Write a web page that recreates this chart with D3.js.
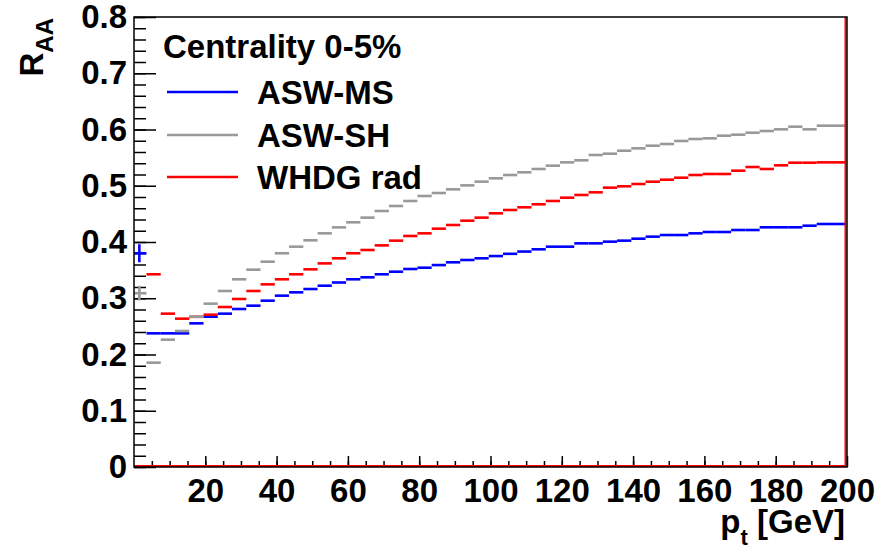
<!doctype html>
<html lang="en">
<head>
  <meta charset="utf-8">
  <title>RAA vs pt</title>
  <style>
    body { margin: 0; background: #fff; }
    svg { display: block; }
    text {
      font-family: "Liberation Sans", Arial, Helvetica, sans-serif;
      font-weight: bold;
      fill: #000;
    }
    .axis text { font-size: 33px; }
    .axis line { stroke: #000; stroke-width: 1.5; }
    .axis path { display: none; }
    .seg { stroke-width: 2.6; fill: none; }
  </style>
</head>
<body>
<svg width="895" height="552"></svg>
<script src="https://d3js.org/d3.v7.min.js"></script>
<script>
  // histogram binning: 50 bins of 4 GeV starting at -0.5
  var binStart = -0.5, binWidth = 4;

  var asw_ms = [0.380, 0.2376, 0.2376, 0.2376, 0.2554, 0.2672, 0.2726, 0.2809, 0.2868, 0.2957,
    0.3046, 0.3105, 0.3164, 0.3223, 0.3280, 0.3337, 0.3372, 0.3426, 0.3472, 0.3520,
    0.3543, 0.3590, 0.3639, 0.3680, 0.3710, 0.3750, 0.3790, 0.3830, 0.3870, 0.3917,
    0.3917, 0.3976, 0.3976, 0.4006, 0.4024, 0.4059, 0.4095, 0.4124, 0.4124, 0.4154,
    0.4178, 0.4178, 0.4213, 0.4213, 0.4261, 0.4261, 0.4261, 0.4290, 0.4320, 0.4320];
  var asw_ms_err = [0.016];

  var asw_sh = [0.309, 0.1855, 0.2264, 0.2418, 0.2672, 0.2904, 0.3129, 0.3337, 0.3508, 0.3650,
    0.3800, 0.3917, 0.4030, 0.4154, 0.4260, 0.4350, 0.4433, 0.4551, 0.4640, 0.4729,
    0.4818, 0.4871, 0.4936, 0.5007, 0.5073, 0.5132, 0.5191, 0.5239, 0.5298, 0.5357,
    0.5416, 0.5452, 0.5547, 0.5570, 0.5623, 0.5665, 0.5712, 0.5742, 0.5796, 0.5831,
    0.5843, 0.5890, 0.5908, 0.5943, 0.5973, 0.6003, 0.6050, 0.6003, 0.6068, 0.6068];
  var asw_sh_err = [0.013];

  var whdg = [null, 0.3426, 0.2726, 0.2637, 0.2670, 0.2708, 0.2844, 0.2987, 0.3129, 0.3247,
    0.3337, 0.3426, 0.3514, 0.3620, 0.3710, 0.3800, 0.3858, 0.3940, 0.4024, 0.4107,
    0.4154, 0.4237, 0.4302, 0.4379, 0.4433, 0.4510, 0.4569, 0.4617, 0.4670, 0.4729,
    0.4788, 0.4836, 0.4883, 0.4966, 0.4990, 0.5031, 0.5072, 0.5108, 0.5143, 0.5191,
    0.5209, 0.5209, 0.5268, 0.5333, 0.5298, 0.5363, 0.5410, 0.5410, 0.5416, 0.5416];
  var whdg_err = [];

  var seriesNames = ["ASW-MS", "ASW-SH", "WHDG rad"];
  var seriesColors = ["#0000ff", "#999999", "#ff0000"];
  var legendTitle = "Centrality 0-5%";

  var yMajor = [0, 0.1, 0.2, 0.3, 0.4, 0.5, 0.6, 0.7, 0.8];
  var xMajor = [20, 40, 60, 80, 100, 120, 140, 160, 180, 200];

  var svg = d3.select("svg");
  var fLeft = 134, fRight = 847, fTop = 17, fBottom = 467;

  var x = d3.scaleLinear().domain([0, 200]).range([fLeft, fRight]);
  var y = d3.scaleLinear().domain([0, 0.8]).range([fBottom, fTop]);

  // y axis: ticks point into the frame
  svg.append("g").attr("class", "axis")
    .attr("transform", `translate(${fLeft},0)`)
    .call(d3.axisLeft(y).tickValues(d3.range(0, 0.801, 0.02)).tickSize(-12).tickFormat(""));
  svg.append("g").attr("class", "axis")
    .attr("transform", `translate(${fLeft},0)`)
    .call(d3.axisLeft(y).tickValues(yMajor).tickSize(-22).tickPadding(7)
      .tickFormat(d => d === 0 ? "0" : d3.format(".1f")(d)));

  // x axis
  svg.append("g").attr("class", "axis")
    .attr("transform", `translate(0,${fBottom})`)
    .call(d3.axisBottom(x).tickValues(d3.range(5, 200, 5)).tickSize(-6).tickFormat(""));
  svg.append("g").attr("class", "axis")
    .attr("transform", `translate(0,${fBottom})`)
    .call(d3.axisBottom(x).tickValues(xMajor).tickSize(-11).tickPadding(12));

  // histograms
  var series = [
    {vals: asw_ms, err: asw_ms_err, color: seriesColors[0]},
    {vals: whdg, err: whdg_err, color: seriesColors[2]},
    {vals: asw_sh, err: asw_sh_err, color: seriesColors[1]}
  ];

  series.forEach(function (s) {
    var bins = s.vals.map(function (v, i) {
      var lo = binStart + i * binWidth;
      return {lo: Math.max(lo, 0), hi: Math.min(lo + binWidth, 200), c: lo + binWidth / 2, v: v, e: s.err[i] || 0};
    }).filter(d => d.v !== null);

    var g = svg.append("g").attr("stroke", s.color);
    g.selectAll("line.h").data(bins).enter().append("line")
      .attr("class", "seg h")
      .attr("x1", d => x(d.lo)).attr("x2", d => x(d.hi))
      .attr("y1", d => y(d.v)).attr("y2", d => y(d.v));
    g.selectAll("line.v").data(bins.filter(d => d.e > 0)).enter().append("line")
      .attr("class", "seg v")
      .attr("x1", d => x(d.c)).attr("x2", d => x(d.c))
      .attr("y1", d => y(d.v - d.e)).attr("y2", d => y(d.v + d.e));
  });

  // red zero line and right edge
  svg.append("path")
    .attr("d", `M${fLeft},${y(0) - 1}H${x(200) - 1.5}V${fTop}`)
    .attr("stroke", "#ff0000").attr("stroke-width", 2).attr("fill", "none");

  // frame
  svg.append("rect")
    .attr("x", fLeft).attr("y", fTop)
    .attr("width", fRight - fLeft).attr("height", fBottom - fTop)
    .attr("fill", "none").attr("stroke", "#000").attr("stroke-width", 1.5);

  // legend
  var legend = svg.append("g");
  legend.append("text").attr("x", 163).attr("y", 58).style("font-size", "33px").text(legendTitle);
  var legendY = [92, 135, 177];
  [0, 1, 2].forEach(function (k, i) {
    legend.append("line")
      .attr("x1", 167).attr("x2", 238)
      .attr("y1", legendY[i]).attr("y2", legendY[i])
      .attr("stroke", seriesColors[k]).attr("stroke-width", 2.6);
    legend.append("text")
      .attr("x", 257).attr("y", legendY[i] + 11.5)
      .style("font-size", "33px")
      .text(seriesNames[k]);
  });

  // axis titles
  var yt = svg.append("text")
    .attr("transform", "translate(43,18) rotate(-90)")
    .attr("text-anchor", "end")
    .style("font-size", "33px");
  yt.append("tspan").text("R");
  yt.append("tspan").attr("dy", 10).style("font-size", "24px").text("AA");

  var xt = svg.append("text")
    .attr("x", 845).attr("y", 533)
    .attr("text-anchor", "end")
    .style("font-size", "33px");
  xt.append("tspan").text("p");
  xt.append("tspan").attr("dy", 12).style("font-size", "22px").text("t");
  xt.append("tspan").attr("dy", -12).text(" [GeV]");
</script>
</body>
</html>
